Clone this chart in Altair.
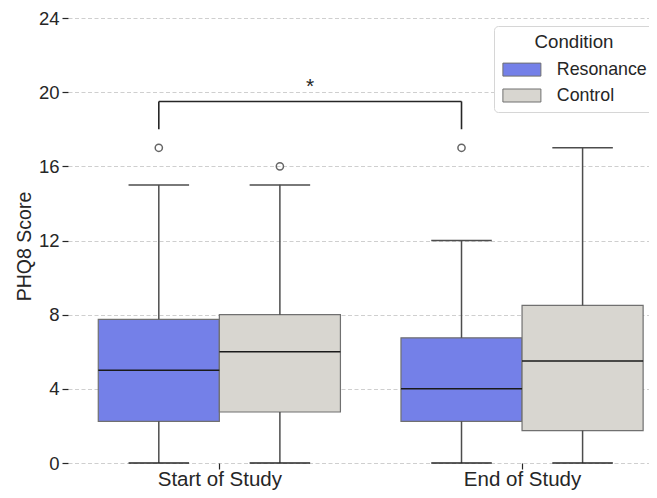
import altair as alt
import pandas as pd

# ---- data ----
groups = ["Start of Study", "End of Study"]
conditions = ["Resonance", "Control"]
colors = ["#7480e8", "#d8d6d0"]

box_group = ["Start of Study", "Start of Study", "End of Study", "End of Study"]
box_condition = ["Resonance", "Control", "Resonance", "Control"]
whisker_low = [0, 0, 0, 0]
q1 = [2.25, 2.75, 2.25, 1.75]
median = [5, 6, 4, 5.5]
q3 = [7.75, 8, 6.75, 8.5]
whisker_high = [15, 15, 12, 17]

outlier_group = ["Start of Study", "Start of Study", "End of Study"]
outlier_condition = ["Resonance", "Control", "Resonance"]
outlier_value = [17, 16, 17]

sig_from = ["Start of Study", "Resonance"]
sig_to = ["End of Study", "Resonance"]
sig_low = 18.0
sig_high = 19.5
sig_label = "*"

y_ticks = [0, 4, 8, 12, 16, 20, 24]

# ---- layout constants ----
DODGE = 0.2      # half of the two-box group width
HALF_BOX = 0.2
HALF_CAP = 0.1
FONT = "Liberation Sans"


def pos(g, c):
    return groups.index(g) + (-DODGE if c == conditions[0] else DODGE)


boxes = pd.DataFrame({
    "group": box_group, "condition": box_condition,
    "low": whisker_low, "q1": q1, "median": median, "q3": q3, "high": whisker_high,
})
boxes["x"] = [pos(g, c) for g, c in zip(box_group, box_condition)]
boxes["left"] = boxes["x"] - HALF_BOX
boxes["right"] = boxes["x"] + HALF_BOX
boxes["capl"] = boxes["x"] - HALF_CAP
boxes["capr"] = boxes["x"] + HALF_CAP

outliers = pd.DataFrame({"group": outlier_group, "condition": outlier_condition, "value": outlier_value})
outliers["x"] = [pos(g, c) for g, c in zip(outlier_group, outlier_condition)]

xa = pos(*sig_from)
xb = pos(*sig_to)
bracket_h = pd.DataFrame({"x": [xa], "x2": [xb], "y": [sig_high]})
bracket_v = pd.DataFrame({"x": [xa, xb], "y": [sig_low, sig_low], "y2": [sig_high, sig_high]})
star = pd.DataFrame({"x": [(xa + xb) / 2], "y": [sig_high], "t": [sig_label]})

label_expr = "[" + ",".join("'%s'" % g for g in groups) + "][datum.value]"

xscale = alt.Scale(domain=[-0.5, 1.4194], nice=False, zero=False)
yscale = alt.Scale(domain=[0, 24], nice=False, zero=False)

x_axis = alt.Axis(values=[0, 1], labelExpr=label_expr, title=None, grid=False, domain=False,
                  tickSize=6, tickColor="#262626", tickWidth=1.2, labelFontSize=20.5,
                  labelColor="#262626", labelFont=FONT, labelPadding=16,
                  labelBaseline="alphabetic", labelFlush=False,
                  labelOverlap=False, labelBound=False)
y_axis = alt.Axis(values=y_ticks, title="PHQ8 Score", grid=True, gridDash=[4, 2.5],
                  gridColor="#cfcfcf", gridWidth=1, domain=False, tickSize=6,
                  tickColor="#262626", tickWidth=1.2, labelFontSize=18.5, labelColor="#262626",
                  labelFont=FONT, labelPadding=3, titleFontSize=19.5, titleFont=FONT,
                  titleFontWeight="normal", titleColor="#262626", titleBaseline="alphabetic",
                  titleX=-38, titleY=228, titleAngle=270)

X = alt.X("x:Q", scale=xscale, axis=x_axis)

whisk_color = "#4d4d4d"

box_rect = alt.Chart(boxes).mark_rect(stroke="#707070", strokeWidth=1.2).encode(
    x=alt.X("left:Q", scale=xscale, axis=x_axis), x2="right:Q",
    y=alt.Y("q1:Q", scale=yscale, axis=y_axis), y2="q3:Q",
    fill=alt.Fill("condition:N", scale=alt.Scale(domain=conditions, range=colors),
                  legend=alt.Legend(title="Condition")),
)
whisk_hi = alt.Chart(boxes).mark_rule(color=whisk_color, strokeWidth=1.5).encode(
    x=X, y=alt.Y("q3:Q", scale=yscale), y2="high:Q")
whisk_lo = alt.Chart(boxes).mark_rule(color=whisk_color, strokeWidth=1.5).encode(
    x=X, y=alt.Y("low:Q", scale=yscale), y2="q1:Q")
cap_hi = alt.Chart(boxes).mark_rule(color=whisk_color, strokeWidth=1.5).encode(
    x=alt.X("capl:Q", scale=xscale), x2="capr:Q", y=alt.Y("high:Q", scale=yscale))
cap_lo = alt.Chart(boxes).mark_rule(color="#262626", strokeWidth=1.5).encode(
    x=alt.X("capl:Q", scale=xscale), x2="capr:Q", y=alt.Y("low:Q", scale=yscale))
med = alt.Chart(boxes).mark_rule(color="#1a1a1a", strokeWidth=1.5).encode(
    x=alt.X("left:Q", scale=xscale), x2="right:Q", y=alt.Y("median:Q", scale=yscale))
outl = alt.Chart(outliers).mark_point(shape="circle", filled=False, size=52, color="#666666",
                                      strokeWidth=1.5, opacity=1).encode(
    x=X, y=alt.Y("value:Q", scale=yscale))
br_h = alt.Chart(bracket_h).mark_rule(color="#262626", strokeWidth=1.6).encode(
    x=X, x2="x2:Q", y=alt.Y("y:Q", scale=yscale))
br_v = alt.Chart(bracket_v).mark_rule(color="#262626", strokeWidth=1.6).encode(
    x=X, y=alt.Y("y:Q", scale=yscale), y2="y2:Q")
star_t = alt.Chart(star).mark_text(font=FONT, fontSize=21, color="#262626",
                                   baseline="alphabetic", dy=-8).encode(
    x=X, y=alt.Y("y:Q", scale=yscale), text="t:N")

chart = alt.layer(box_rect, whisk_hi, whisk_lo, cap_hi, cap_lo, med, outl, br_h, br_v, star_t).properties(
    width=581, height=445,
    padding={"left": 60, "top": 10, "right": 0, "bottom": 27},
    autosize=alt.AutoSizeParams(type="none"),
).configure_view(strokeWidth=0).configure_legend(
    orient="none", legendX=426, legendY=8,
    padding=7, cornerRadius=4, strokeColor="#d6d6d6", fillColor="#ffffff",
    titleFont=FONT, titleFontSize=18.7, titleFontWeight="normal", titleColor="#262626",
    titleAnchor="middle", titlePadding=9,
    labelFont=FONT, labelFontSize=17.8, labelColor="#262626",
    symbolType="M-2.923,-1H2.923V1H-2.923Z", symbolSize=169,
    symbolStrokeColor="#707070", symbolStrokeWidth=1, symbolOpacity=1,
    symbolOffset=12, labelOffset=26, rowPadding=6.9,
)

chart.save("out.html", embed_options={"renderer": "svg", "actions": False})
